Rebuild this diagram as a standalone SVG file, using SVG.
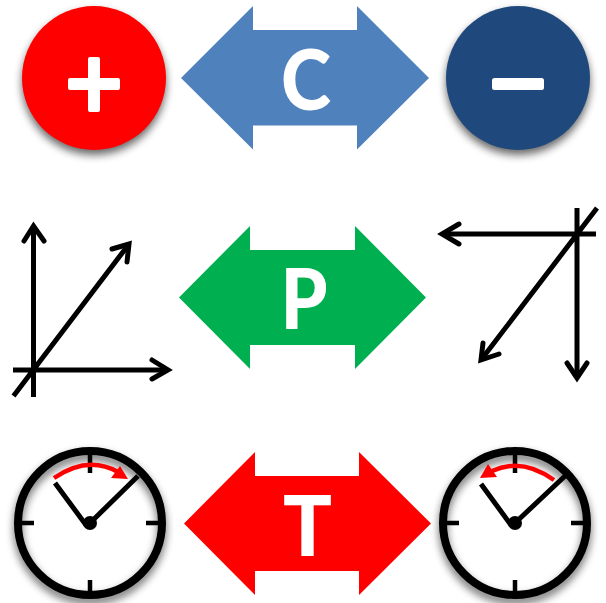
<svg xmlns="http://www.w3.org/2000/svg" width="606" height="603" viewBox="0 0 606 603">
<defs>
<filter id="sh" x="-25%" y="-25%" width="150%" height="155%" color-interpolation-filters="sRGB"><feGaussianBlur in="SourceAlpha" stdDeviation="4"/><feOffset dy="5"/><feComponentTransfer><feFuncA type="linear" slope="0.6"/></feComponentTransfer><feMerge><feMergeNode/><feMergeNode in="SourceGraphic"/></feMerge></filter>
<g id="clock">
<circle r="72" fill="#fff"/>
<circle r="72" fill="none" stroke="#000" stroke-width="8" filter="url(#sh)"/>
<path d="M0-72V-50M0 72V57M-72 0H-56M72 0H56" stroke="#000" stroke-width="4.500" fill="none"/>
<circle r="7" fill="#000"/>
</g>
</defs>
<style>
.big{font-family:"Lato","Open Sans","Liberation Sans",sans-serif;font-weight:900;fill:#fff;text-anchor:middle;font-size:84px}
.ax{stroke:#000;stroke-width:5;fill:none;stroke-linejoin:miter}
.hd{stroke-linecap:round}
.hand{stroke:#000;stroke-width:5;fill:none}
.sym{fill:#fff}
.rd{stroke:#f00;stroke-width:4.500;fill:none}
</style>
<rect width="606" height="603" fill="#fff"/>
<g id="plus"><circle cx="94" cy="78" r="72" fill="#f00" filter="url(#sh)"/><path class="sym" d="M88 59a2 2 0 0 1 2-2h8a2 2 0 0 1 2 2v19h18a2 2 0 0 1 2 2v8a2 2 0 0 1-2 2h-18v20a2 2 0 0 1-2 2h-8a2 2 0 0 1-2-2v-20h-18a2 2 0 0 1-2-2v-8a2 2 0 0 1 2-2h18z"/></g>
<g id="minus"><circle cx="518" cy="78" r="72" fill="#1f497d" filter="url(#sh)"/><rect class="sym" x="492" y="78" width="52" height="12" rx="2.5"/></g>
<g id="arrow-c"><polygon points="181,78 253,6 253,30 357,30 357,6 429,78 357,149.500 357,125.500 253,125.500 253,149.500" fill="#4f81bd"/><text class="big" x="306" y="110" textLength="50" lengthAdjust="spacingAndGlyphs">C</text></g>
<g id="arrow-p"><polygon points="179,297.500 250,226 250,250 355,250 355,226 426,297.500 355,369 355,345 250,345 250,369" fill="#00b050"/><text class="big" x="304" y="329" textLength="47" lengthAdjust="spacingAndGlyphs">P</text></g>
<g id="arrow-t"><polygon points="184,523.500 255,452 255,476 359,476 359,452 431,523.500 359,595 359,571 255,571 255,595" fill="#f00"/><text class="big" x="307.500" y="556" textLength="49" lengthAdjust="spacingAndGlyphs">T</text></g>
<g id="axes-left" class="ax"><path d="M33.500 397V226M13 370H168M13.500 396L129 244"/><path class="hd" d="M24 241L33.500 226L44 241M152 360L168 370L152 379M112 249L129 244L127 262"/></g>
<g id="axes-right" class="ax"><path d="M577 208V378M596 234H442M597 208L481 360"/><path class="hd" d="M567 363L577 378L587 363M459 224L442 234L459 244M483 343L481 360L499 354"/></g>
<g id="clock-left"><use href="#clock" x="90" y="523"/><path class="hand" d="M55 483L86 525M138 476L90 523"/><path class="rd" d="M54 478Q88 455 118 472"/><polygon points="128,479 111,478 120,466" fill="#f00"/></g>
<g id="clock-right"><use href="#clock" x="515" y="523"/><path class="hand" d="M481 484L511 525M565 476L515 523"/><path class="rd" d="M554 480Q522 457 492 471"/><polygon points="480,478 497,477 488,464" fill="#f00"/></g>
</svg>
